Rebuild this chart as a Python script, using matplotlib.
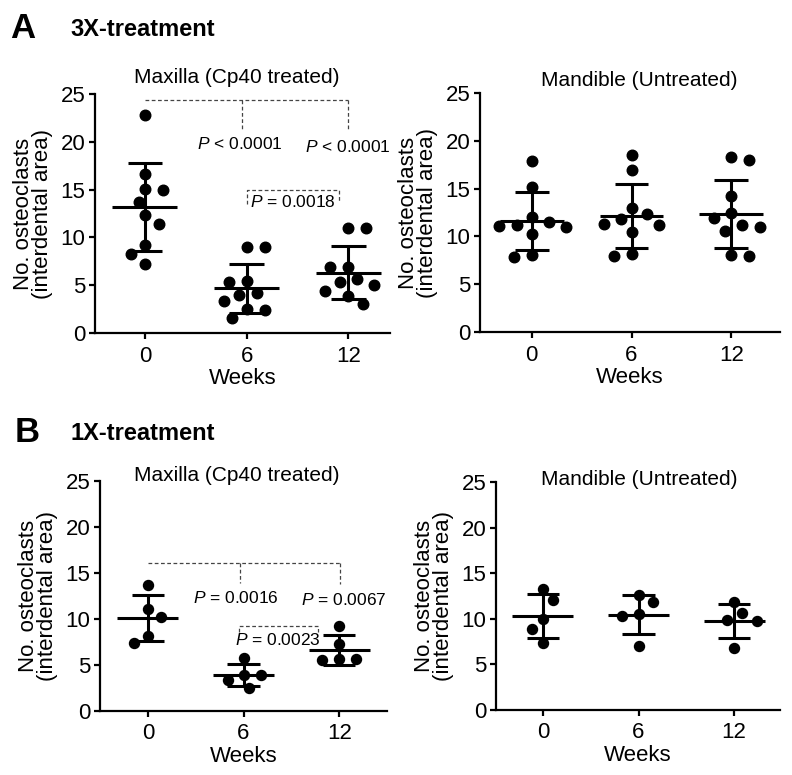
import numpy as np
import matplotlib.pyplot as plt

weeks = ["0", "6", "12"]

# 3X treatment, maxilla (Cp40 treated)
a_max_w0 = [22.8, 16.6, 15.1, 15.0, 13.7, 12.3, 11.4, 9.2, 8.3, 7.2]
a_max_w6 = [9.0, 9.0, 5.4, 5.3, 4.2, 4.0, 3.3, 2.5, 2.4, 1.6]
a_max_w12 = [11.0, 11.0, 6.9, 6.9, 5.3, 5.0, 5.6, 4.4, 3.9, 3.0]
# 3X treatment, mandible (untreated)
a_man_w0 = [17.9, 15.2, 12.0, 11.2, 11.5, 11.1, 11.0, 10.3, 7.8, 8.1]
a_man_w6 = [18.5, 16.9, 13.0, 11.8, 12.3, 11.2, 11.3, 10.5, 7.9, 8.2]
a_man_w12 = [18.3, 18.0, 14.2, 11.9, 12.4, 11.0, 11.2, 10.6, 8.0, 8.1]
# 1X treatment, maxilla (Cp40 treated)
b_max_w0 = [13.7, 11.1, 10.2, 8.2, 7.4]
b_max_w6 = [5.8, 3.9, 3.9, 3.4, 2.5]
b_max_w12 = [9.2, 7.3, 5.6, 5.5, 5.6]
# 1X treatment, mandible (untreated)
b_man_w0 = [13.3, 12.1, 10.0, 8.9, 7.3]
b_man_w6 = [12.6, 11.8, 10.5, 10.3, 7.0]
b_man_w12 = [11.9, 10.6, 9.9, 9.8, 6.8]

plt.rcParams["font.family"] = ["Liberation Sans", "DejaVu Sans"]
plt.rcParams["mathtext.fontset"] = "custom"
plt.rcParams["mathtext.it"] = "Liberation Sans:italic"
plt.rcParams["mathtext.rm"] = "Liberation Sans"

fig = plt.figure(figsize=(7.92, 7.75), dpi=100)


def swarm(ax, xc, vals, d, sx=1.7, sy=1.35):
    # beeswarm in pixel space with an elliptical spacing rule,
    # ties between left/right broken by alternating sides
    vals = np.asarray(vals, float)
    pts = ax.transData.transform(np.column_stack([np.full(len(vals), xc), vals]))
    ys = pts[:, 1]
    ppu = ax.transData.transform((1, 0))[0] - ax.transData.transform((0, 0))[0]
    placed = []
    off = np.zeros(len(vals))
    last = -1.0
    for i in np.argsort(-vals, kind="stable"):
        cands = [0.0]
        for px, py in placed:
            dy = (ys[i] - py) / sy
            if abs(dy) < d:
                dx = sx * np.sqrt(d * d - dy * dy)
                cands += [px + dx, px - dx]
        cands.sort(key=lambda c: (round(abs(c), 3), c * last > 0))
        for c in cands:
            if all(((c - px) / sx) ** 2 + ((ys[i] - py) / sy) ** 2 >= d * d - 1e-6
                   for px, py in placed):
                break
        placed.append((c, ys[i]))
        off[i] = c
        if c != 0:
            last = np.sign(c)
    return xc + off / ppu


def panel(rect, xlim, groups, title, tpos, ms):
    ax = fig.add_axes(rect)
    ax.set_xlim(*xlim)
    ax.set_ylim(0, 25)
    for sp in ["top", "right"]:
        ax.spines[sp].set_visible(False)
    for sp in ["left", "bottom"]:
        ax.spines[sp].set_linewidth(1.6)
    ax.set_yticks([0, 5, 10, 15, 20, 25])
    ax.set_xticks([0, 1, 2])
    ax.set_xticklabels(weeks)
    ax.tick_params(axis="both", labelsize=16, width=1.6, length=4)
    ax.tick_params(axis="y", pad=3)
    ax.tick_params(axis="x", pad=5)
    ax.set_xlabel("Weeks", fontsize=16, labelpad=1)
    ax.set_ylabel("No. osteoclasts\n(interdental area)", fontsize=16, labelpad=5, linespacing=0.92)
    ax.text(tpos[0], tpos[1], title, transform=ax.transAxes, ha="center", va="baseline", fontsize=15)
    d = ms / 72 * fig.dpi
    for i, g in enumerate(groups):
        xs = swarm(ax, i, g, d)
        ax.plot(xs, g, "o", color="black", ms=ms, clip_on=False, zorder=3)
        m, sd = np.mean(g), np.std(g, ddof=1)
        ax.hlines(m, i - 0.32, i + 0.32, color="black", lw=2.2, zorder=4)
        ax.vlines(i, m - sd, m + sd, color="black", lw=2.2, zorder=4)
        ax.hlines([m - sd, m + sd], i - 0.17, i + 0.17, color="black", lw=2.2, zorder=4)
    return ax


def dash(ax, xs, ys):
    ax.plot(xs, ys, color="#444444", lw=0.9, dashes=(3, 2), clip_on=False, zorder=2)


def ptext(ax, x, y, rest):
    ax.text(x, y, r"$\it{P}$" + rest, ha="center", va="baseline", fontsize=12.5, zorder=5)


# Panel A
ax1 = panel([0.120, 0.5703, 0.3725, 0.3084], (-0.49, 2.41),
            [a_max_w0, a_max_w6, a_max_w12], "Maxilla (Cp40 treated)", (0.481, 1.046), 7.6)
dash(ax1, [0, 2], [24.4, 24.4])
dash(ax1, [0.95, 0.95], [24.4, 21.3])
dash(ax1, [2, 2], [24.4, 21.1])
ptext(ax1, 0.93, 19.2, " < 0.0001")
ptext(ax1, 2.0, 18.95, " < 0.0001")
dash(ax1, [1.0, 1.0, 1.91, 1.91], [13.5, 15.0, 15.0, 13.7])
ptext(ax1, 1.45, 13.15, " = 0.0018")

ax2 = panel([0.606, 0.5716, 0.379, 0.3084], (-0.52, 2.49),
            [a_man_w0, a_man_w6, a_man_w12], "Mandible (Untreated)", (0.532, 1.029), 7.6)

# Panel B
ax3 = panel([0.1263, 0.0826, 0.3624, 0.2968], (-0.50, 2.50),
            [b_max_w0, b_max_w6, b_max_w12], "Maxilla (Cp40 treated)", (0.477, 1.0), 7.2)
dash(ax3, [0, 2.01], [16.05, 16.05])
dash(ax3, [0.96, 0.96], [16.05, 13.9])
dash(ax3, [2.01, 2.01], [16.05, 13.8])
ptext(ax3, 0.92, 11.7, " = 0.0016")
ptext(ax3, 2.05, 11.5, " = 0.0067")
dash(ax3, [0.95, 0.95, 1.78, 1.78], [8.6, 9.2, 9.2, 8.6])
ptext(ax3, 1.36, 7.2, " = 0.0023")

ax4 = panel([0.6263, 0.0839, 0.3586, 0.294], (-0.49, 2.48),
            [b_man_w0, b_man_w6, b_man_w12], "Mandible (Untreated)", (0.505, 0.987), 7.2)

fig.text(0.0126, 1 - 38 / 775, "A", fontsize=25, fontweight="bold", va="baseline")
fig.text(70 / 792, 1 - 36 / 775, "3X-treatment", fontsize=17, fontweight="bold", va="baseline")
fig.text(15 / 792, 1 - 442 / 775, "B", fontsize=25, fontweight="bold", va="baseline")
fig.text(70 / 792, 1 - 440 / 775, "1X-treatment", fontsize=17, fontweight="bold", va="baseline")

fig.savefig("out.png", dpi=100)
